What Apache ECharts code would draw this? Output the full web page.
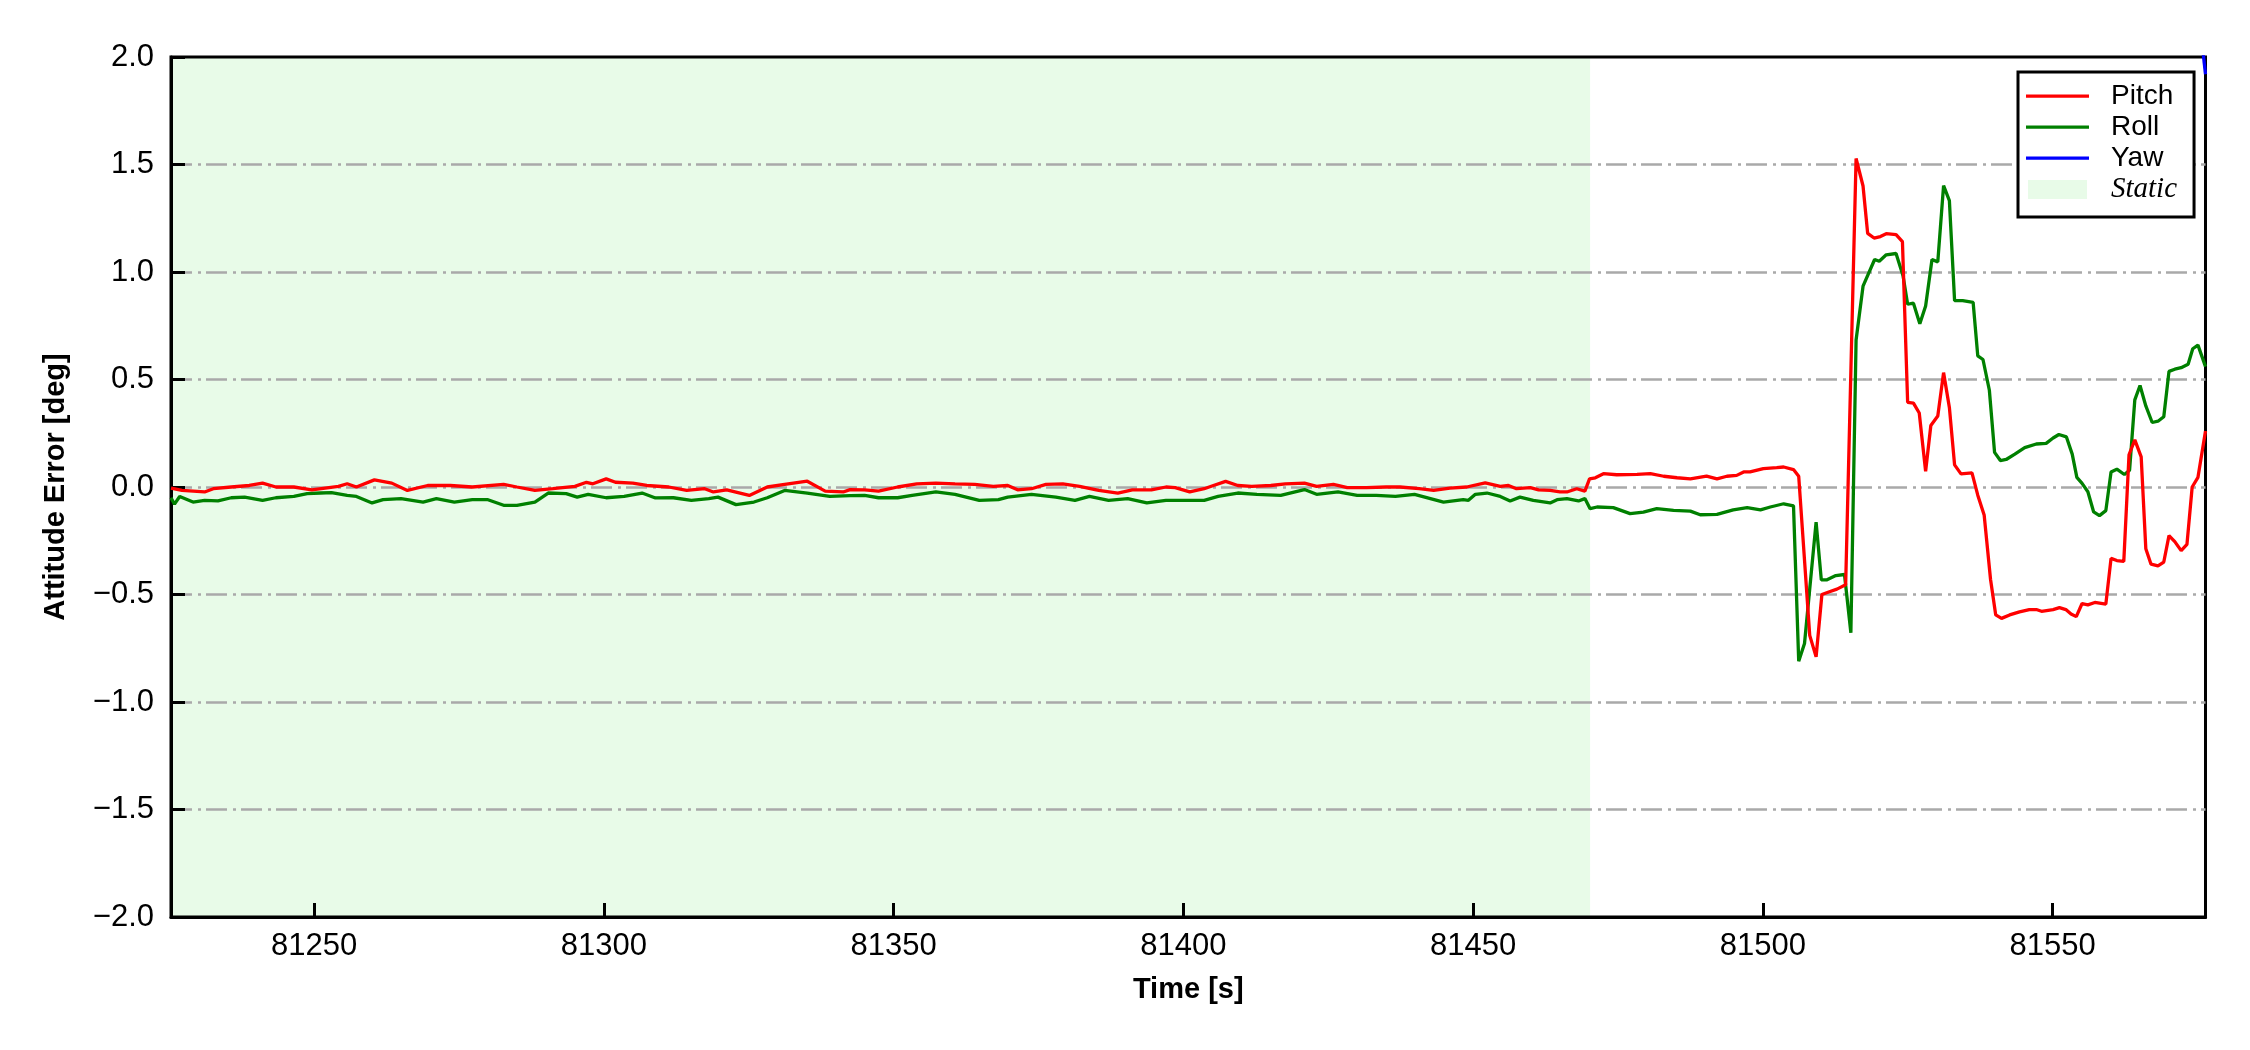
<!DOCTYPE html>
<html>
<head>
<meta charset="utf-8">
<script src="https://cdn.jsdelivr.net/npm/echarts@6/dist/echarts.min.js"></script>
<style>
html,body{margin:0;padding:0;background:#fff;}
#chart{width:2250px;height:1050px;}
</style>
</head>
<body>
<div id="chart"></div>
<script>
// ---- data ----
const xTicks = [81250, 81300, 81350, 81400, 81450, 81500, 81550];
const xRange = [81225.3, 81576.4];
const staticEnd = 81470.2;

const pitchT = [81225.3,81227.2,81231.1,81232.6,81235.7,81238.8,81241.1,81243.4,81246.5,81249.6,81254.2,81255.7,81257.3,81260.4,81263.4,81266.1,81269.6,81273.5,81277.3,81282.7,81285.0,81288.1,81291.2,81295.0,81297.0,81298.1,81300.4,81302.0,81305.0,81307.4,81311.2,81314.3,81317.4,81318.9,81321.2,81325.1,81328.2,81331.2,81335.1,81338.2,81341.3,81342.5,81345.0,81347.4,81350.7,81354.0,81357.3,81360.6,81364.0,81367.2,81369.7,81371.4,81373.8,81376.3,81379.2,81382.1,81385.4,81388.7,81391.2,81394.5,81397.0,81398.6,81401.1,81403.6,81405.2,81407.3,81409.4,81411.8,81415.1,81417.6,81420.9,81423.0,81425.9,81428.3,81431.6,81435.0,81437.4,81440.7,81443.2,81446.0,81448.9,81452.1,81454.7,81456.1,81457.5,81459.9,81461.3,81463.3,81465.0,81466.2,81467.9,81469.3,81470.1,81471.1,81472.5,81474.8,81478.3,81480.6,81482.9,81485.2,81487.5,81490.3,81492.1,81493.8,81495.5,81496.7,81497.8,81500.1,81502.4,81503.6,81505.3,81506.2,81508.1,81509.2,81510.2,81511.5,81512.8,81514.3,81516.1,81517.3,81518.1,81519.2,81520.3,81521.3,81523.0,81524.1,81525.0,81526.0,81527.0,81528.1,81529.0,81530.2,81531.2,81532.2,81533.1,81534.2,81536.1,81537.1,81538.2,81539.3,81540.2,81541.2,81542.6,81544.3,81546.0,81547.2,81548.1,81550.1,81551.2,81552.3,81553.2,81554.1,81555.1,81556.1,81557.3,81559.2,81560.1,81561.1,81562.3,81563.2,81564.2,81565.3,81566.1,81567.0,81568.2,81569.2,81570.1,81571.1,81572.2,81573.2,81574.1,81575.1,81576.4];
const pitchV = [-0.005,-0.016,-0.023,-0.008,0.0,0.007,0.018,0.0,0.0,-0.013,0.003,0.015,0.0,0.033,0.018,-0.016,0.007,0.007,0.0,0.012,0.0,-0.016,-0.008,0.003,0.022,0.015,0.038,0.022,0.018,0.007,0.0,-0.016,-0.008,-0.023,-0.013,-0.039,0.0,0.012,0.027,-0.019,-0.023,-0.012,-0.013,-0.019,0.0,0.015,0.018,0.015,0.012,0.003,0.007,-0.013,-0.008,0.012,0.015,0.003,-0.016,-0.028,-0.013,-0.013,0.0,-0.003,-0.023,-0.008,0.007,0.026,0.007,0.003,0.007,0.015,0.018,0.003,0.012,-0.003,-0.003,0.0,0.0,-0.008,-0.016,-0.005,0.0,0.019,0.003,0.007,-0.008,-0.003,-0.013,-0.016,-0.023,-0.023,-0.008,-0.019,0.038,0.043,0.062,0.057,0.059,0.062,0.050,0.043,0.038,0.051,0.038,0.050,0.054,0.070,0.070,0.085,0.090,0.093,0.081,0.050,-0.69,-0.79,-0.50,-0.487,-0.475,-0.455,1.528,1.40,1.18,1.158,1.165,1.178,1.174,1.141,0.394,0.39,0.344,0.073,0.286,0.33,0.532,0.37,0.103,0.061,0.066,-0.038,-0.13,-0.429,-0.595,-0.611,-0.595,-0.581,-0.57,-0.57,-0.578,-0.57,-0.561,-0.57,-0.591,-0.603,-0.542,-0.548,-0.537,-0.545,-0.332,-0.342,-0.346,0.15,0.219,0.14,-0.287,-0.359,-0.367,-0.349,-0.226,-0.254,-0.296,-0.267,0.0,0.045,0.26];

const rollT = [81225.3,81225.9,81226.8,81229.1,81231.1,81233.4,81235.7,81238.0,81241.1,81243.4,81246.5,81248.8,81251.1,81253.0,81255.7,81257.3,81260.0,81261.9,81265.0,81268.8,81271.1,81274.2,81277.3,81280.0,81282.7,81285.0,81288.1,81290.4,81293.5,81295.4,81297.3,81300.4,81303.5,81306.6,81308.9,81312.0,81315.1,81318.1,81319.7,81322.8,81325.9,81328.2,81331.2,81335.1,81339.0,81342.5,81345.0,81347.4,81350.7,81353.2,81357.3,81360.6,81364.8,81368.1,81369.7,81373.8,81378.0,81381.3,81383.8,81387.1,81390.4,81393.7,81397.0,81400.3,81403.6,81406.0,81409.4,81412.7,81416.8,81420.9,81423.0,81426.7,81430.0,81433.3,81436.6,81439.9,81444.9,81448.3,81449.2,81450.4,81452.4,81454.7,81456.4,81458.1,81460.4,81463.3,81464.5,81466.2,81468.2,81469.3,81470.2,81471.4,81474.2,81477.1,81479.4,81481.7,81484.6,81487.5,81489.2,81492.1,81494.9,81497.3,81499.6,81501.3,81503.6,81505.3,81506.2,81507.2,81509.2,81510.1,81511.0,81512.6,81514.1,81515.2,81516.1,81517.3,81519.3,81520.1,81521.3,81523.0,81524.2,81525.0,81526.0,81527.1,81528.1,81529.2,81530.2,81531.2,81532.2,81533.1,81534.5,81536.3,81537.1,81538.0,81539.1,81540.0,81541.0,81542.0,81543.5,81545.2,81547.2,81548.9,81550.1,81551.1,81552.4,81553.4,81554.2,81555.1,81556.1,81557.1,81558.1,81559.2,81560.1,81561.1,81562.4,81563.3,81564.2,81565.1,81566.1,81567.2,81568.2,81569.2,81570.1,81571.1,81572.2,81573.4,81574.2,81575.1,81576.4];
const rollV = [-0.050,-0.080,-0.044,-0.070,-0.062,-0.065,-0.050,-0.047,-0.062,-0.050,-0.044,-0.031,-0.028,-0.026,-0.039,-0.044,-0.074,-0.059,-0.054,-0.070,-0.054,-0.070,-0.059,-0.059,-0.085,-0.085,-0.070,-0.028,-0.031,-0.047,-0.034,-0.050,-0.044,-0.028,-0.051,-0.050,-0.062,-0.054,-0.047,-0.082,-0.070,-0.050,-0.016,-0.028,-0.044,-0.040,-0.039,-0.050,-0.050,-0.039,-0.023,-0.034,-0.062,-0.059,-0.047,-0.034,-0.047,-0.062,-0.044,-0.062,-0.054,-0.074,-0.062,-0.062,-0.062,-0.044,-0.028,-0.034,-0.039,-0.012,-0.034,-0.023,-0.039,-0.039,-0.044,-0.034,-0.070,-0.059,-0.062,-0.034,-0.028,-0.044,-0.065,-0.047,-0.062,-0.074,-0.059,-0.054,-0.065,-0.054,-0.101,-0.093,-0.096,-0.124,-0.117,-0.101,-0.109,-0.112,-0.129,-0.127,-0.106,-0.096,-0.106,-0.093,-0.078,-0.088,-0.81,-0.728,-0.163,-0.432,-0.432,-0.412,-0.407,-0.678,0.684,0.934,1.058,1.05,1.08,1.086,0.983,0.85,0.855,0.759,0.842,1.058,1.047,1.402,1.332,0.867,0.867,0.859,0.61,0.593,0.45,0.161,0.123,0.128,0.153,0.183,0.2,0.203,0.228,0.244,0.233,0.153,0.045,0.017,-0.022,-0.116,-0.133,-0.11,0.07,0.083,0.058,0.078,0.405,0.472,0.377,0.3,0.306,0.327,0.538,0.548,0.555,0.571,0.643,0.66,0.56];

const yawT = [81575.4, 81576.4];
const yawV = [2.16, 1.92];

// ---- chart ----
const zip = (t, v) => t.map((x, i) => [x, v[i]]);
const FONT = '"Liberation Sans", Arial, sans-serif';
// icon boxes are 80x28; tiny corner specks fix the bounding box
const lineIcon = 'path://M0,0h0.01v0.01h-0.01z M0,12.5h63v3.2h-63z M80,28h-0.01v-0.01h0.01z';
const rectIcon = 'path://M0,0h0.01v0.01h-0.01z M2,4.5h59v19h-59z M80,28h-0.01v-0.01h0.01z';

const chart = echarts.init(document.getElementById('chart'), null, {renderer: 'canvas'});
chart.setOption({
  animation: false,
  backgroundColor: '#fff',
  grid: {left: 171, right: 44.5, top: 57, bottom: 133, show: true, z: 0,
         borderColor: '#000', borderWidth: 3, backgroundColor: 'transparent'},
  xAxis: {
    type: 'value', min: xRange[0], max: xRange[1], z: 1,
    name: 'Time [s]', nameLocation: 'middle', nameGap: 58,
    nameTextStyle: {fontFamily: FONT, fontWeight: 'bold', fontSize: 29, color: '#000'},
    axisLine: {show: true, onZero: false, lineStyle: {color: '#000', width: 3}},
    axisTick: {show: true, inside: true, length: 14, lineStyle: {color: '#000', width: 3}, customValues: xTicks},
    axisLabel: {show: true, fontFamily: FONT, fontSize: 31, color: '#000', margin: 14, customValues: xTicks,
                formatter: v => String(v)},
    splitLine: {show: false}
  },
  yAxis: {
    type: 'value', min: -2, max: 2, interval: 0.5, z: 1,
    name: 'Attitude Error [deg]', nameLocation: 'middle', nameGap: 101,
    nameTextStyle: {fontFamily: FONT, fontWeight: 'bold', fontSize: 29, color: '#000'},
    axisLine: {show: true, onZero: false, lineStyle: {color: '#000', width: 3}},
    axisTick: {show: true, inside: true, length: 14, lineStyle: {color: '#000', width: 3}},
    axisLabel: {fontFamily: FONT, fontSize: 31, color: '#000', margin: 17,
                formatter: v => (v < 0 ? '\u2212' : '') + Math.abs(v).toFixed(1)},
    splitLine: {show: true, showMinLine: false, showMaxLine: false,
                lineStyle: {color: '#a9a9a9', width: 2.5, type: [21, 6, 3, 5]}}
  },
  legend: {
    left: 2018, top: 72, orient: 'vertical', z: 10,
    backgroundColor: '#fff', borderColor: '#000', borderWidth: 3, borderRadius: 0,
    padding: [10, 17, 13, 8], itemGap: 3, itemWidth: 80, itemHeight: 28,
    selectedMode: false,
    textStyle: {fontFamily: FONT, fontSize: 28, color: '#000'},
    data: [
      {name: 'Pitch', icon: lineIcon},
      {name: 'Roll', icon: lineIcon},
      {name: 'Yaw', icon: lineIcon},
      {name: 'Static', icon: rectIcon,
       textStyle: {fontFamily: '"Liberation Serif", "Times New Roman", serif', fontStyle: 'italic', fontSize: 29, color: '#000'}}
    ]
  },
  series: [
    {name: 'Static', type: 'line', data: [], z: -1, silent: true,
     itemStyle: {color: '#e8fbe8'}, lineStyle: {color: '#e8fbe8'},
     markArea: {silent: true, z: -1, itemStyle: {color: '#e8fbe8'},
                data: [[{xAxis: xRange[0]}, {xAxis: staticEnd}]]}},
    {name: 'Pitch', type: 'line', data: zip(pitchT, pitchV), showSymbol: false, symbol: 'none',
     color: '#ff0000', lineStyle: {color: '#ff0000', width: 3.3}, clip: true, z: 3},
    {name: 'Roll', type: 'line', data: zip(rollT, rollV), showSymbol: false, symbol: 'none',
     color: '#008000', lineStyle: {color: '#008000', width: 3.3}, clip: true, z: 2},
    {name: 'Yaw', type: 'line', data: zip(yawT, yawV), showSymbol: false, symbol: 'none',
     color: '#0000ff', lineStyle: {color: '#0000ff', width: 3.3}, clip: true, z: 2}
  ]
});
</script>
</body>
</html>
